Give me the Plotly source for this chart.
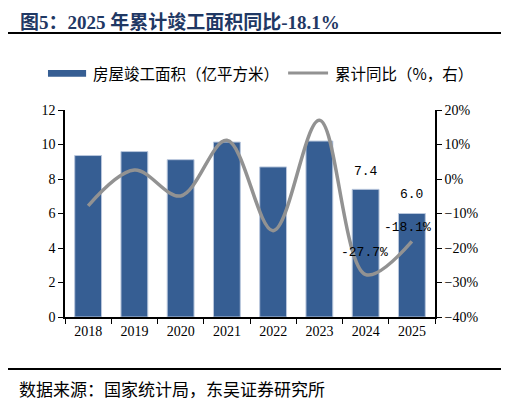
import plotly.graph_objects as go

# data
years = ["2018", "2019", "2020", "2021", "2022", "2023", "2024", "2025"]
area = [9.36, 9.59, 9.12, 10.14, 8.7, 10.2, 7.4, 6.0]        # 亿平方米
yoy = [-7.8, 2.6, -4.9, 11.2, -15.0, 17.0, -27.7, -18.1]      # %

title_text = "图5：2025 年累计竣工面积同比-18.1%"
bar_name = "房屋竣工面积（亿平方米）"
line_name = "累计同比（%，右）"
source_text = "数据来源：国家统计局，东吴证券研究所"

BLUE = "#365e93"
GREY = "#929292"
NAVY = "#1f3864"
CJK = "Noto Sans CJK SC"
SERIF = "Liberation Serif"

fig = go.Figure()

fig.add_trace(go.Bar(
    x=years, y=area, name=bar_name,
    marker=dict(color=BLUE, line=dict(color="#b9c7dc", width=1)),
    yaxis="y", showlegend=False,
))
fig.add_trace(go.Scatter(
    x=years, y=yoy, name=line_name, mode="lines",
    line=dict(color=GREY, width=3.5, shape="spline", smoothing=1.0),
    yaxis="y2", showlegend=False,
))

# data labels for the last two years (x given as category index)
lab_font = dict(family="Liberation Mono", size=13, color="black")
anns = [
    dict(x=6, y=area[6], yref="y", text=f"{area[6]:.1f}", showarrow=False,
         yshift=18, font=lab_font),
    dict(x=7, y=area[7], yref="y", text=f"{area[7]:.1f}", showarrow=False,
         yshift=19, font=lab_font),
    dict(x=6, y=yoy[6], yref="y2", text=f"{yoy[6]:.1f}%", showarrow=False,
         yshift=22, xshift=-1, font=lab_font),
    dict(x=7, y=yoy[7], yref="y2", text=f"{yoy[7]:.1f}%", showarrow=False,
         yshift=14, xshift=-4, font=lab_font),
]

# title, legend and source
anns += [
    dict(x=-0.127, y=1.488, xref="paper", yref="paper", text=title_text,
         showarrow=False, xanchor="left", yanchor="top",
         font=dict(family=SERIF + ", " + CJK, size=19, color=NAVY, weight="bold")),
    dict(x=0.070, y=1.179, xref="paper", yref="paper", text=bar_name,
         showarrow=False, xanchor="left", yanchor="middle",
         font=dict(family=CJK, size=15.5, color="black")),
    dict(x=0.724, y=1.179, xref="paper", yref="paper", text=line_name,
         showarrow=False, xanchor="left", yanchor="middle",
         font=dict(family=CJK, size=15.5, color="black")),
    dict(x=-0.130, y=-0.343, xref="paper", yref="paper", text=source_text,
         showarrow=False, xanchor="left", yanchor="middle",
         font=dict(family=CJK, size=17, color="black")),
]

shapes = [
    dict(type="line", xref="paper", yref="paper", x0=-0.162, x1=1.184,
         y0=1.372, y1=1.372, line=dict(color="black", width=2)),
    dict(type="line", xref="paper", yref="paper", x0=-0.162, x1=1.184,
         y0=-0.251, y1=-0.251, line=dict(color="black", width=2)),
    dict(type="rect", xref="paper", yref="paper", x0=-0.046, x1=0.057,
         y0=1.161, y1=1.193, fillcolor=BLUE, line=dict(width=0)),
    dict(type="line", xref="paper", yref="paper", x0=0.603, x1=0.711,
         y0=1.179, y1=1.179, line=dict(color=GREY, width=3)),
]

tick_font = dict(family=SERIF, size=14, color="black")

# the page body has an 8px margin, so the figure is 8px smaller each way
fig.update_layout(
    width=501, height=394,
    margin=dict(l=57, r=74, t=102, b=85),
    paper_bgcolor="white", plot_bgcolor="white",
    bargap=0.42,
    annotations=anns, shapes=shapes,
    xaxis=dict(
        type="category", range=[-0.5, 7.5], tickfont=tick_font, showgrid=False,
        showline=True, linecolor="black", linewidth=1.5, tickangle=0,
        ticks="outside", tickson="boundaries", ticklen=5, tickcolor="black",
    ),
    yaxis=dict(
        range=[0, 12], dtick=2, tickfont=tick_font, showgrid=False, zeroline=False,
        showline=True, linecolor="black", linewidth=1.5,
        ticks="outside", ticklen=5, tickcolor="black",
    ),
    yaxis2=dict(
        range=[-40, 20], dtick=10, ticksuffix="%", tickfont=tick_font,
        overlaying="y", side="right", showgrid=False, zeroline=False,
        showline=True, linecolor="black", linewidth=1.5,
        ticks="outside", ticklen=5, tickcolor="black",
    ),
)

fig.write_html("out.html")
